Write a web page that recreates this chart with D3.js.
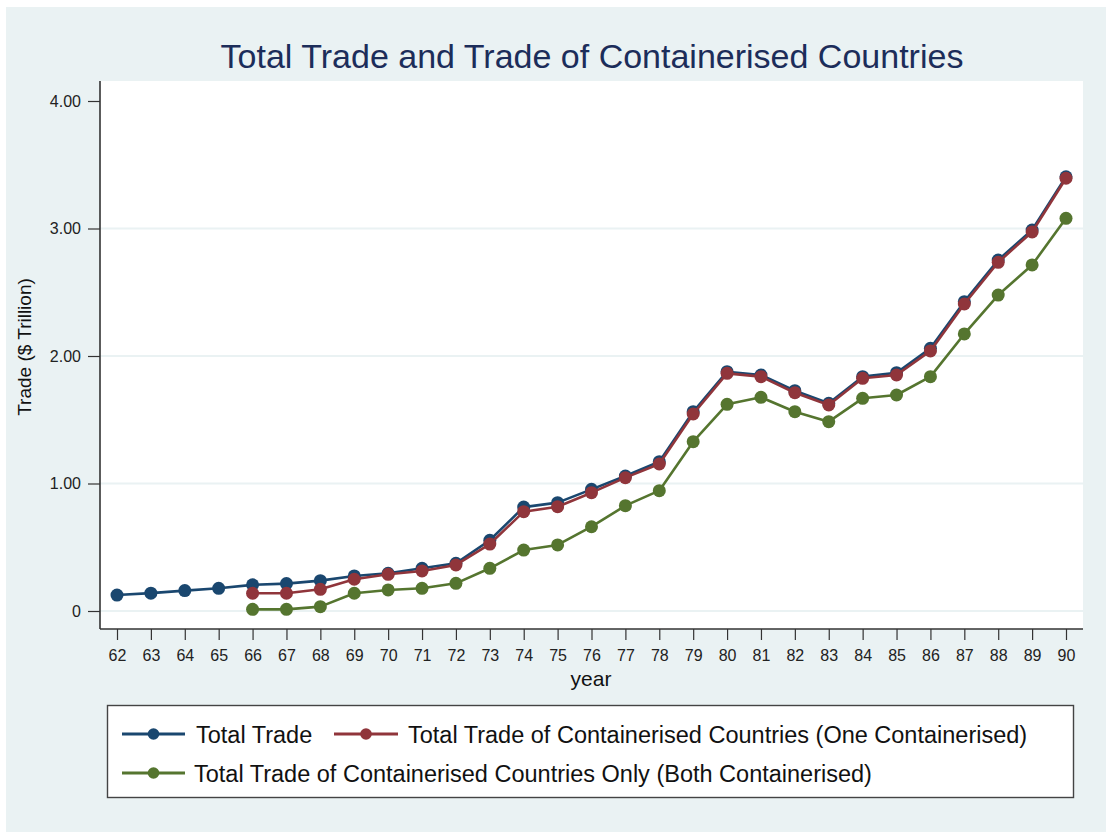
<!DOCTYPE html>
<html>
<head>
<meta charset="utf-8">
<script src="https://cdn.jsdelivr.net/npm/d3@7"></script>
<style>
  html, body { margin: 0; padding: 0; background: #ffffff; }
  svg { display: block; }
  text { font-family: "Liberation Sans", Arial, sans-serif; }
</style>
</head>
<body>
<svg id="chart" width="1106" height="832"></svg>
<script>
const title = "Total Trade and Trade of Containerised Countries";
const years = [62,63,64,65,66,67,68,69,70,71,72,73,74,75,76,77,78,79,80,81,82,83,84,85,86,87,88,89,90];
const yTicks = [0, 1, 2, 3, 4];
const yTickLabels = ["0", "1.00", "2.00", "3.00", "4.00"];
const seriesNames = [
  "Total Trade",
  "Total Trade of Containerised Countries (One Containerised)",
  "Total Trade of Containerised Countries Only (Both Containerised)"
];
const totalTrade = [0.125,0.14,0.16,0.178,0.205,0.215,0.238,0.275,0.296,0.335,0.374,0.555,0.815,0.85,0.954,1.059,1.171,1.563,1.877,1.851,1.728,1.629,1.838,1.869,2.06,2.426,2.753,2.988,3.406];
const oneContainerised = [null,null,null,null,0.139,0.139,0.17,0.249,0.288,0.314,0.361,0.525,0.779,0.818,0.928,1.046,1.153,1.545,1.864,1.838,1.712,1.616,1.825,1.851,2.04,2.408,2.735,2.973,3.394];
const bothContainerised = [null,null,null,null,0.013,0.013,0.034,0.139,0.165,0.178,0.217,0.335,0.478,0.518,0.661,0.826,0.944,1.328,1.621,1.676,1.563,1.485,1.668,1.694,1.838,2.173,2.478,2.714,3.08];
const colors = ["#1a476f", "#90353b", "#55752f"];

const svg = d3.select("#chart");
const W = 1106, H = 832;
const plot = { left: 100, right: 1083, top: 81, bottom: 629 };

// outer background
svg.append("rect").attr("x", 6).attr("y", 7).attr("width", W - 6).attr("height", H - 7).attr("fill", "#eaf2f3");
// plot region
svg.append("rect").attr("x", plot.left).attr("y", plot.top)
  .attr("width", plot.right - plot.left).attr("height", plot.bottom - plot.top).attr("fill", "#ffffff");

const x = d3.scaleLinear().domain([62, 90]).range([117, 1066]);
const y = d3.scaleLinear().domain([0, 4]).range([611, 101]);

// gridlines
svg.append("g").selectAll("line").data(yTicks.filter(d => d < 4)).join("line")
  .attr("x1", plot.left).attr("x2", plot.right)
  .attr("y1", d => y(d)).attr("y2", d => y(d))
  .attr("stroke", "#eaf2f3").attr("stroke-width", 2);

// y axis
const yAxis = d3.axisLeft(y).tickValues(yTicks).tickFormat((d, i) => yTickLabels[i]).tickSize(12).tickSizeOuter(0).tickPadding(7);
const gy = svg.append("g").attr("transform", `translate(${plot.left},0)`).call(yAxis);
gy.select(".domain").remove();
gy.append("line").attr("x1", 0).attr("x2", 0).attr("y1", plot.top).attr("y2", plot.bottom).attr("stroke", "#333333").attr("stroke-width", 1.6);
gy.selectAll(".tick line").attr("stroke", "#333333").attr("stroke-width", 1.2);
gy.selectAll(".tick text").attr("font-size", 16).attr("fill", "#222222").attr("font-family", "Liberation Sans, Arial, sans-serif");

// x axis
const xAxis = d3.axisBottom(x).tickValues(years).tickFormat(d => String(d)).tickSize(11).tickSizeOuter(0).tickPadding(10);
const gx = svg.append("g").attr("transform", `translate(0,${plot.bottom})`).call(xAxis);
gx.select(".domain").remove();
gx.append("line").attr("x1", plot.left).attr("x2", plot.right).attr("y1", 0).attr("y2", 0).attr("stroke", "#333333").attr("stroke-width", 1.6);
gx.selectAll(".tick line").attr("stroke", "#333333").attr("stroke-width", 1.2);
gx.selectAll(".tick text").attr("font-size", 16).attr("fill", "#222222").attr("font-family", "Liberation Sans, Arial, sans-serif");

// axis titles
svg.append("text").attr("x", 591).attr("y", 686).attr("text-anchor", "middle")
  .attr("font-size", 21).attr("fill", "#111").text("year");
svg.append("text").attr("transform", "translate(31,347) rotate(-90)").attr("text-anchor", "middle")
  .attr("font-size", 19).attr("fill", "#111").text("Trade ($ Trillion)");

// title
svg.append("text").attr("x", 592).attr("y", 68).attr("text-anchor", "middle")
  .attr("font-size", 34).attr("fill", "#1c2d5a").text(title);

// series
const allSeries = [totalTrade, oneContainerised, bothContainerised];
const line = d3.line().defined(d => d[1] != null).x(d => x(d[0])).y(d => y(d[1]));
allSeries.forEach((vals, i) => {
  const pts = years.map((yr, j) => [yr, vals[j]]);
  const g = svg.append("g");
  g.append("path").datum(pts).attr("d", line).attr("fill", "none")
    .attr("stroke", colors[i]).attr("stroke-width", 2.6).attr("stroke-linejoin", "round");
  g.selectAll("circle").data(pts.filter(d => d[1] != null)).join("circle")
    .attr("cx", d => x(d[0])).attr("cy", d => y(d[1])).attr("r", 6.5).attr("fill", colors[i]);
});

// legend
const lg = svg.append("g");
lg.append("rect").attr("x", 107.5).attr("y", 705.5).attr("width", 966).attr("height", 92)
  .attr("fill", "#ffffff").attr("stroke", "#444444").attr("stroke-width", 1.4);
const legendItems = [
  { x1: 122, x2: 185, tx: 196, cy: 734 },
  { x1: 334, x2: 398, tx: 408, cy: 734 },
  { x1: 122, x2: 185, tx: 194, cy: 773 }
];
legendItems.forEach((it, i) => {
  lg.append("line").attr("x1", it.x1).attr("x2", it.x2).attr("y1", it.cy).attr("y2", it.cy)
    .attr("stroke", colors[i]).attr("stroke-width", 2.8);
  lg.append("circle").attr("cx", (it.x1 + it.x2) / 2).attr("cy", it.cy).attr("r", 5.8).attr("fill", colors[i]);
  lg.append("text").attr("x", it.tx).attr("y", it.cy + 8.5).attr("font-size", 23.5).attr("fill", "#111")
    .text(seriesNames[i]);
});
</script>
</body>
</html>
